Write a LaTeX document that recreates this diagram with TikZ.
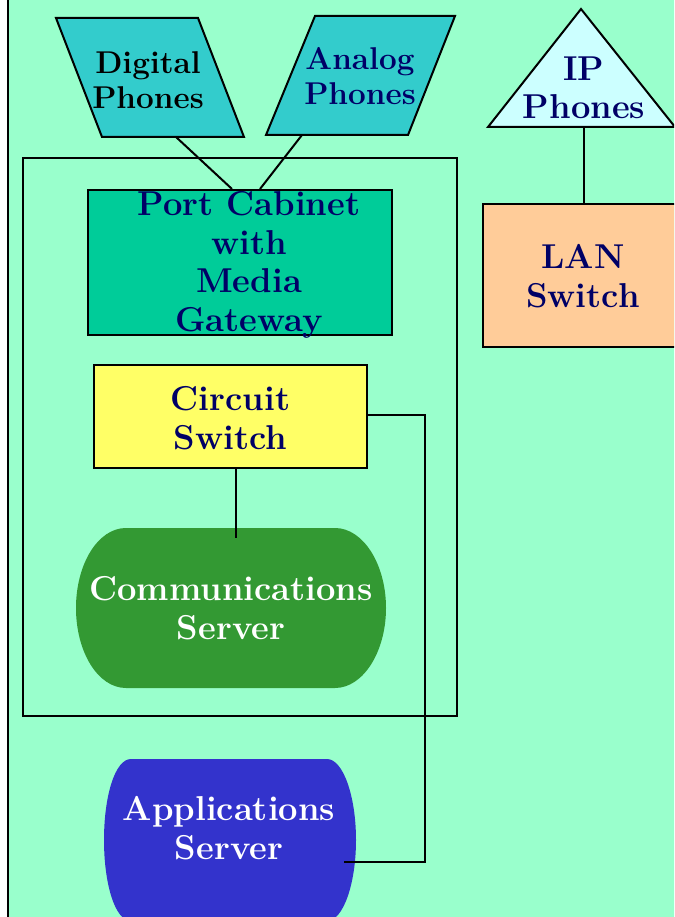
\documentclass[tikz,border=0pt]{standalone}
\usepackage{fontspec}
\usetikzlibrary{calc}
\definecolor{bgmint}{HTML}{99FFCC}
\definecolor{phoneteal}{HTML}{33CCCC}
\definecolor{ipcyan}{HTML}{CCFFFF}
\definecolor{portgreen}{HTML}{00CC99}
\definecolor{circyellow}{HTML}{FFFF66}
\definecolor{commgreen}{HTML}{339933}
\definecolor{appblue}{HTML}{3333CC}
\definecolor{lanpeach}{HTML}{FFCC99}
\definecolor{navytext}{HTML}{000066}
\tikzset{
  wire/.style={line width=2pt, black},
  border/.style={line width=2pt, draw=black},
  boxnode/.style={border, rectangle, inner sep=0pt},
  bigtxt/.style={font=\fontsize{34.5}{38.5}\selectfont\bfseries, align=center, inner sep=0pt, text=navytext},
  phonetxt/.style={font=\fontsize{31.5}{35}\selectfont\bfseries, align=center, inner sep=0pt, text=navytext},
}
\begin{document}
\begin{tikzpicture}[x=1pt,y=-1pt]
\useasboundingbox (0,0) rectangle (674,917);
\begin{scope}
\clip (0,0) rectangle (674,917);
% page background and its left rule
\fill[bgmint] (8,-5) rectangle (700,940);
\draw[wire] (8,-5) -- (8,940);

% enclosure of the PBX parts
\draw[border] (23,158) rectangle (457,716);

% phone types
\filldraw[border, fill=phoneteal] (56,18) -- (198,18) -- (244,137) -- (102,137) -- cycle;
\filldraw[border, fill=phoneteal] (315,16) -- (455,16) -- (408,135) -- (266,135) -- cycle;
\filldraw[border, fill=ipcyan] (581,9) -- (675,127) -- (488,127) -- cycle;
\node[phonetxt, text=black] (digital) at (148,80) {Digital\\Phones};
\node[phonetxt] (analog) at (360,76) {Analog\\Phones};
\node[bigtxt] (ip) at (584,88) {IP\\Phones};
\coordinate (digfoot) at (176,137);
\coordinate (anafoot) at (302,135);
\coordinate (ipfoot) at (584,127);

% boxes
\node[boxnode, fill=portgreen, minimum width=304pt, minimum height=145pt] (port) at (240,262.5) {};
\node[bigtxt] (porttxt) at (249,265) {Port Cabinet\\with\\ Media\\Gateway};
\node[boxnode, fill=circyellow, minimum width=273pt, minimum height=103pt] (circ) at (230.5,416.5) {};
\node[bigtxt] (circtxt) at (230.5,418) {Circuit\\Switch};
\node[boxnode, fill=lanpeach, minimum width=200pt, minimum height=143pt] (lan) at (583,275.5) {};
\node[bigtxt] (lantxt) at (583,276) {LAN\\Switch};

% servers: flat top and bottom, elliptical sides
\fill[commgreen] (126,528) -- (335,528) .. controls (363,528) and (386,564) .. (386,608)
  .. controls (386,652) and (363,688) .. (335,688) -- (126,688)
  .. controls (98,688) and (76,652) .. (76,608) .. controls (76,564) and (98,528) .. (126,528);
\node[bigtxt, text=white] (comm) at (231,608) {Communications\\Server};
\fill[appblue] (131,759) -- (327,759) .. controls (343,759) and (356,796) .. (356,840)
  .. controls (356,884) and (343,921) .. (327,921) -- (131,921)
  .. controls (115,921) and (104,884) .. (104,840) .. controls (104,796) and (115,759) .. (131,759);
\node[bigtxt, text=white] (app) at (229,828) {Applications\\Server};
\coordinate (commtop) at (236,538);
\coordinate (appin) at (344,862);

% connectors
\draw[wire] (digfoot) -- ($(port.north)+(-8,0)$);
\draw[wire] (anafoot) -- ($(port.north)+(20,0)$);
\draw[wire] (ipfoot) -- (ipfoot |- lan.north);
\draw[wire] ($(port.east)+(0,7.5)$) -- ($(port.east)+(0,7.5)$ -| lan.west);
\draw[wire] ($(port.south)+(-6,0)$) -- ($(port.south)+(-6,0)$ |- circ.north);
\draw[wire] ($(circ.south)+(5.5,0)$) -- (commtop);
\draw[wire] ($(circ.east)+(0,-1.5)$) -- ++(57,0) |- (appin);
\end{scope}
\end{tikzpicture}
\end{document}
